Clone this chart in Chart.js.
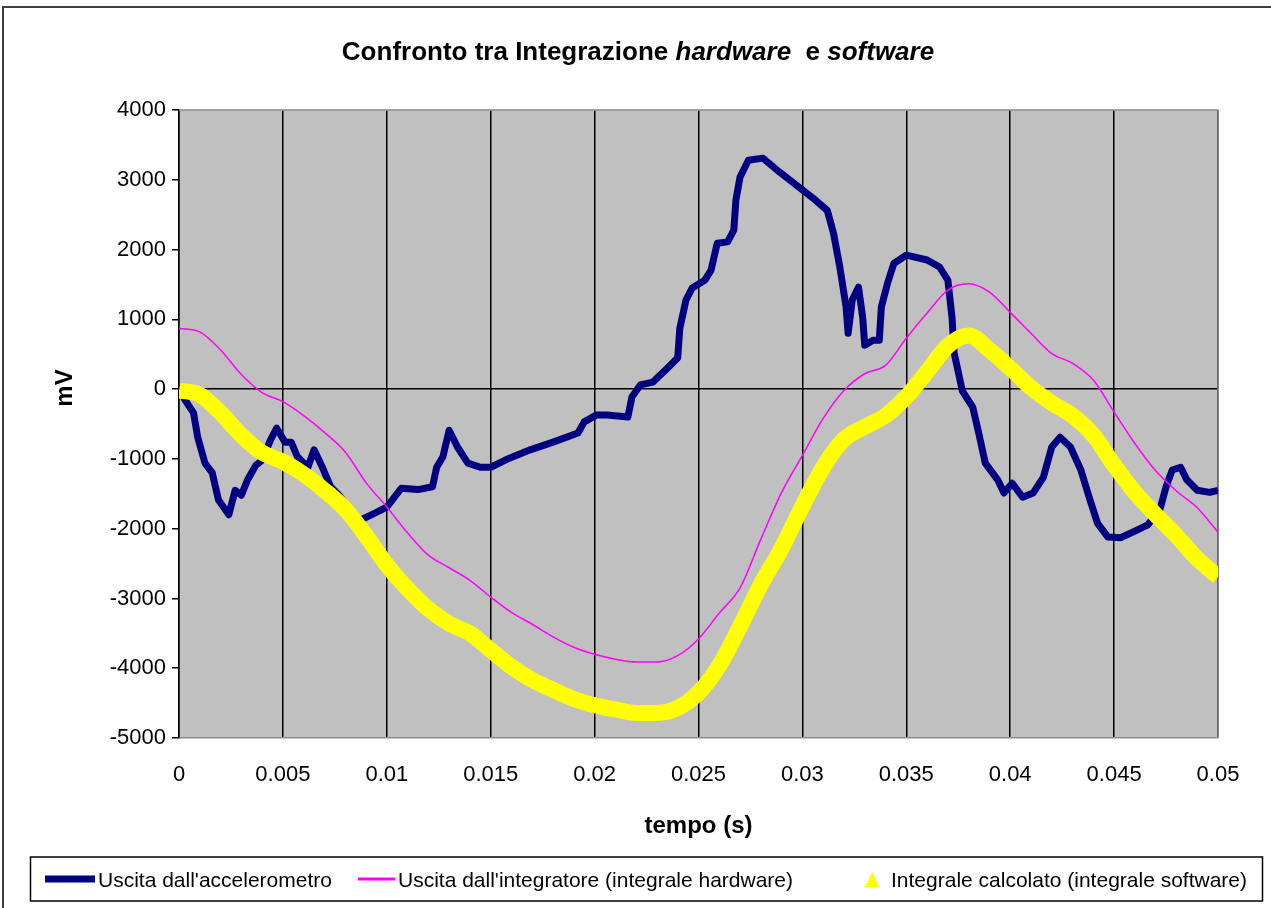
<!DOCTYPE html>
<html>
<head>
<meta charset="utf-8">
<script src="https://cdn.jsdelivr.net/npm/chart.js@4.4.1/dist/chart.umd.min.js"></script>
<style>
  html, body { margin: 0; padding: 0; background: #fff; }
  #wrap { position: relative; width: 1271px; height: 908px; }
</style>
</head>
<body>
<div id="wrap"><canvas id="chart" width="1271" height="908"></canvas></div>
<script>
// accelerometer output (traced points, time in s, value in mV)
const accelTime = [0, 0.0003, 0.0007, 0.0009, 0.00125, 0.0016, 0.0019, 0.0024, 0.0027, 0.003,
  0.0033, 0.0037, 0.004, 0.0044, 0.0047, 0.0051, 0.0054, 0.0057, 0.0062, 0.0065,
  0.0069, 0.0073, 0.0077, 0.0082, 0.0087, 0.0094, 0.01, 0.0107, 0.0115, 0.0122,
  0.0124, 0.0127, 0.013, 0.0134, 0.0139, 0.0145, 0.015, 0.0159, 0.0169, 0.018,
  0.0192, 0.0195, 0.0201, 0.0206, 0.0216, 0.0218, 0.0222, 0.0228, 0.0235, 0.024,
  0.0241, 0.0244, 0.0247, 0.0253, 0.0256, 0.0259, 0.0264, 0.0267, 0.0268, 0.027,
  0.0274, 0.0281, 0.0289, 0.0299, 0.0305, 0.0312, 0.0315, 0.0318, 0.0321, 0.0322,
  0.0324, 0.0327, 0.0329, 0.033, 0.0334, 0.0337, 0.0338, 0.0341, 0.0344, 0.035,
  0.036, 0.0366, 0.037, 0.0372, 0.0373, 0.0377, 0.0382, 0.0385, 0.0388, 0.0394,
  0.0397, 0.0401, 0.0406, 0.0411, 0.0416, 0.042, 0.0424, 0.0429, 0.0434, 0.0438,
  0.0442, 0.0447, 0.0453, 0.0459, 0.0466, 0.0472, 0.0475, 0.0478, 0.0482, 0.0485,
  0.049, 0.0496, 0.05];
const accelMv = [0, -160, -340, -690, -1060, -1200, -1590, -1800, -1450, -1520,
  -1300, -1090, -1020, -730, -560, -760, -760, -970, -1120, -870,
  -1120, -1400, -1520, -1720, -1880, -1780, -1690, -1420, -1440, -1400,
  -1120, -970, -590, -830, -1060, -1120, -1120, -990, -870, -760,
  -630, -470, -370, -370, -400, -110, 60, 100, 300, 450,
  870, 1280, 1450, 1560, 1700, 2090, 2110, 2280, 2710, 3040,
  3280, 3310, 3110, 2880, 2740, 2560, 2230, 1750, 1180, 800,
  1280, 1460, 1030, 630, 700, 700, 1180, 1520, 1800, 1920,
  1850, 1750, 1560, 1030, 520, -30, -260, -650, -1060, -1300,
  -1490, -1350, -1550, -1490, -1260, -830, -690, -830, -1160, -1550,
  -1920, -2120, -2130, -2050, -1950, -1730, -1400, -1160, -1120, -1300,
  -1450, -1480, -1450];

// integrator output and computed integral, every 1 ms
const integTime = [0, 0.001, 0.002, 0.003, 0.004, 0.005, 0.006, 0.007, 0.008, 0.009,
  0.01, 0.011, 0.012, 0.013, 0.014, 0.015, 0.016, 0.017, 0.018, 0.019,
  0.02, 0.021, 0.022, 0.023, 0.024, 0.025, 0.026, 0.027, 0.028, 0.029,
  0.03, 0.031, 0.032, 0.033, 0.034, 0.035, 0.036, 0.037, 0.038, 0.039,
  0.04, 0.041, 0.042, 0.043, 0.044, 0.045, 0.046, 0.047, 0.048, 0.049, 0.05];
const hardwareMv = [870, 820, 560, 210, -50, -180, -380, -620, -900, -1340,
  -1690, -2060, -2380, -2560, -2740, -2980, -3200, -3370, -3550, -3700,
  -3800, -3870, -3910, -3910, -3820, -3580, -3210, -2850, -2150, -1480,
  -950, -420, -20, 220, 340, 730, 1090, 1420, 1510, 1390,
  1100, 800, 510, 370, 130, -330, -780, -1170, -1460, -1700, -2050];
const softwareMv = [-20, -80, -340, -660, -910, -1040, -1220, -1450, -1720, -2100,
  -2520, -2860, -3150, -3360, -3500, -3740, -3980, -4170, -4310, -4440,
  -4530, -4590, -4640, -4640, -4570, -4350, -3960, -3400, -2800, -2280,
  -1680, -1120, -720, -540, -380, -110, 250, 620, 770, 560,
  300, 20, -200, -380, -660, -1090, -1480, -1800, -2100, -2430, -2690];

const yTicks = [4000, 3000, 2000, 1000, 0, -1000, -2000, -3000, -4000, -5000];

function pairs(xs, ys) {
    return xs.map((x, i) => ({x: x, y: ys[i]}))
}

const FONT = 'Arial, "Liberation Sans", sans-serif';

// where each legend entry sits inside the legend box (sample start, sample end, text start)
const legendSlots = [[45, 95, 98], [358, 395, 398], [872, 872, 891]];

// plot background, grey frame, outer border, title, y axis title and legend
const excelLook = {
    id: 'excelLook',
    beforeDraw(chart) {
        const {ctx, chartArea: a} = chart;
        ctx.save();
        ctx.fillStyle = '#c0c0c0';
        ctx.fillRect(a.left, a.top, a.right - a.left, a.bottom - a.top);
        ctx.restore();
    },
    beforeDatasetsDraw(chart) {
        const {ctx, chartArea: a} = chart;
        ctx.save();
        ctx.strokeStyle = '#8c8c8c';
        ctx.lineWidth = 1.5;
        ctx.beginPath();
        ctx.moveTo(a.left, a.top);
        ctx.lineTo(a.right, a.top);
        ctx.lineTo(a.right, a.bottom);
        ctx.stroke();
        ctx.restore();
    },
    afterDraw(chart) {
        const ctx = chart.ctx;
        ctx.save();
        // outer frame
        ctx.strokeStyle = '#404040';
        ctx.lineWidth = 2;
        ctx.beginPath();
        ctx.moveTo(3, 910);
        ctx.lineTo(3, 7);
        ctx.lineTo(1271, 7);
        ctx.stroke();

        // title with italic words
        const parts = [
            ['Confronto tra Integrazione ', 'bold 26px ' + FONT],
            ['hardware', 'italic bold 26px ' + FONT],
            ['  e ', 'bold 26px ' + FONT],
            ['software', 'italic bold 26px ' + FONT]
        ];
        let total = 0;
        parts.forEach(p => { ctx.font = p[1]; total += ctx.measureText(p[0]).width; });
        let x = 638 - total / 2;
        ctx.fillStyle = '#000';
        ctx.textBaseline = 'alphabetic';
        ctx.textAlign = 'left';
        parts.forEach(p => {
            ctx.font = p[1];
            ctx.fillText(p[0], x, 60);
            x += ctx.measureText(p[0]).width;
        });

        // y axis title
        ctx.save();
        ctx.translate(65, 388);
        ctx.rotate(-Math.PI / 2);
        ctx.font = 'bold 24px ' + FONT;
        ctx.textAlign = 'center';
        ctx.textBaseline = 'middle';
        ctx.fillText('mV', 0, 0);
        ctx.restore();

        // legend
        const top = 857, bottom = 901, mid = 880;
        ctx.strokeStyle = '#000';
        ctx.lineWidth = 1.5;
        ctx.strokeRect(30.5, top, 1232, bottom - top);
        ctx.font = '21px ' + FONT;
        ctx.textBaseline = 'middle';
        chart.data.datasets.forEach((ds, i) => {
            const [s0, s1, tx] = legendSlots[i];
            ctx.strokeStyle = ds.borderColor;
            ctx.fillStyle = ds.borderColor;
            if (ds.legendStyle === 'triangle') {
                ctx.beginPath();
                ctx.moveTo(s0, mid - 8);
                ctx.lineTo(s0 + 7, mid + 7);
                ctx.lineTo(s0 - 7, mid + 7);
                ctx.closePath();
                ctx.fill();
            } else {
                ctx.lineWidth = ds.legendLine;
                ctx.beginPath();
                ctx.moveTo(s0, mid - 1);
                ctx.lineTo(s1, mid - 1);
                ctx.stroke();
            }
            ctx.fillStyle = '#000';
            ctx.fillText(ds.label, tx, mid + 1);
        });
        ctx.restore();
    }
};

const ctx = document.getElementById('chart');

new Chart(ctx, {
    type: 'line',
    data: {
        datasets: [
            {
                label: "Uscita dall'accelerometro",
                data: pairs(accelTime, accelMv),
                borderColor: '#000080',
                borderWidth: 7,
                borderJoinStyle: 'round',
                pointRadius: 0,
                order: 3,
                legendStyle: 'line',
                legendLine: 7
            },
            {
                label: "Uscita dall'integratore (integrale hardware)",
                data: pairs(integTime, hardwareMv),
                borderColor: '#ff00ff',
                borderWidth: 1.5,
                cubicInterpolationMode: 'monotone',
                pointRadius: 0,
                order: 2,
                legendStyle: 'line',
                legendLine: 3
            },
            {
                label: 'Integrale calcolato (integrale software)',
                data: pairs(integTime, softwareMv),
                borderColor: '#ffff00',
                borderWidth: 16,
                borderJoinStyle: 'round',
                cubicInterpolationMode: 'monotone',
                pointRadius: 0,
                order: 1,
                legendStyle: 'triangle',
                legendLine: 1
            }
        ]
    },
    options: {
        responsive: false,
        animation: false,
        layout: {
            padding: {left: 0, right: 53, top: 110, bottom: 53}
        },
        scales: {
            x: {
                type: 'linear',
                min: 0,
                max: 0.05,
                afterFit: (scale) => {
                    scale.height = 117;
                    scale.paddingLeft = 0;
                    scale.paddingRight = 0;
                },
                ticks: {
                    stepSize: 0.005,
                    padding: 24,
                    color: '#000',
                    font: {family: FONT, size: 22},
                    callback: (v) => String(parseFloat(v.toFixed(4)))
                },
                grid: {
                    color: '#000',
                    lineWidth: 1.5,
                    drawTicks: false
                },
                border: {color: '#8c8c8c', width: 1.5},
                title: {
                    display: true,
                    text: 'tempo (s)',
                    color: '#000',
                    font: {family: FONT, size: 24, weight: 'bold'},
                    padding: {top: 0, bottom: 14}
                }
            },
            y: {
                min: -5000,
                max: 4000,
                afterFit: (scale) => {
                    scale.width = 179;
                    scale.paddingTop = 0;
                    scale.paddingBottom = 0;
                },
                afterBuildTicks: (scale) => {
                    scale.ticks = yTicks.map(v => ({value: v}));
                },
                ticks: {
                    padding: 6,
                    color: '#000',
                    font: {family: FONT, size: 22},
                    callback: (v) => String(v)
                },
                grid: {
                    color: (c) => c.tick && c.tick.value === 0 ? '#000' : 'rgba(0,0,0,0)',
                    tickColor: '#000',
                    tickLength: 7,
                    lineWidth: 1.5
                },
                border: {color: '#000', width: 1.5}
            }
        },
        plugins: {
            title: {display: false},
            tooltip: {enabled: false},
            legend: {display: false}
        }
    },
    plugins: [excelLook]
});
</script>
</body>
</html>
